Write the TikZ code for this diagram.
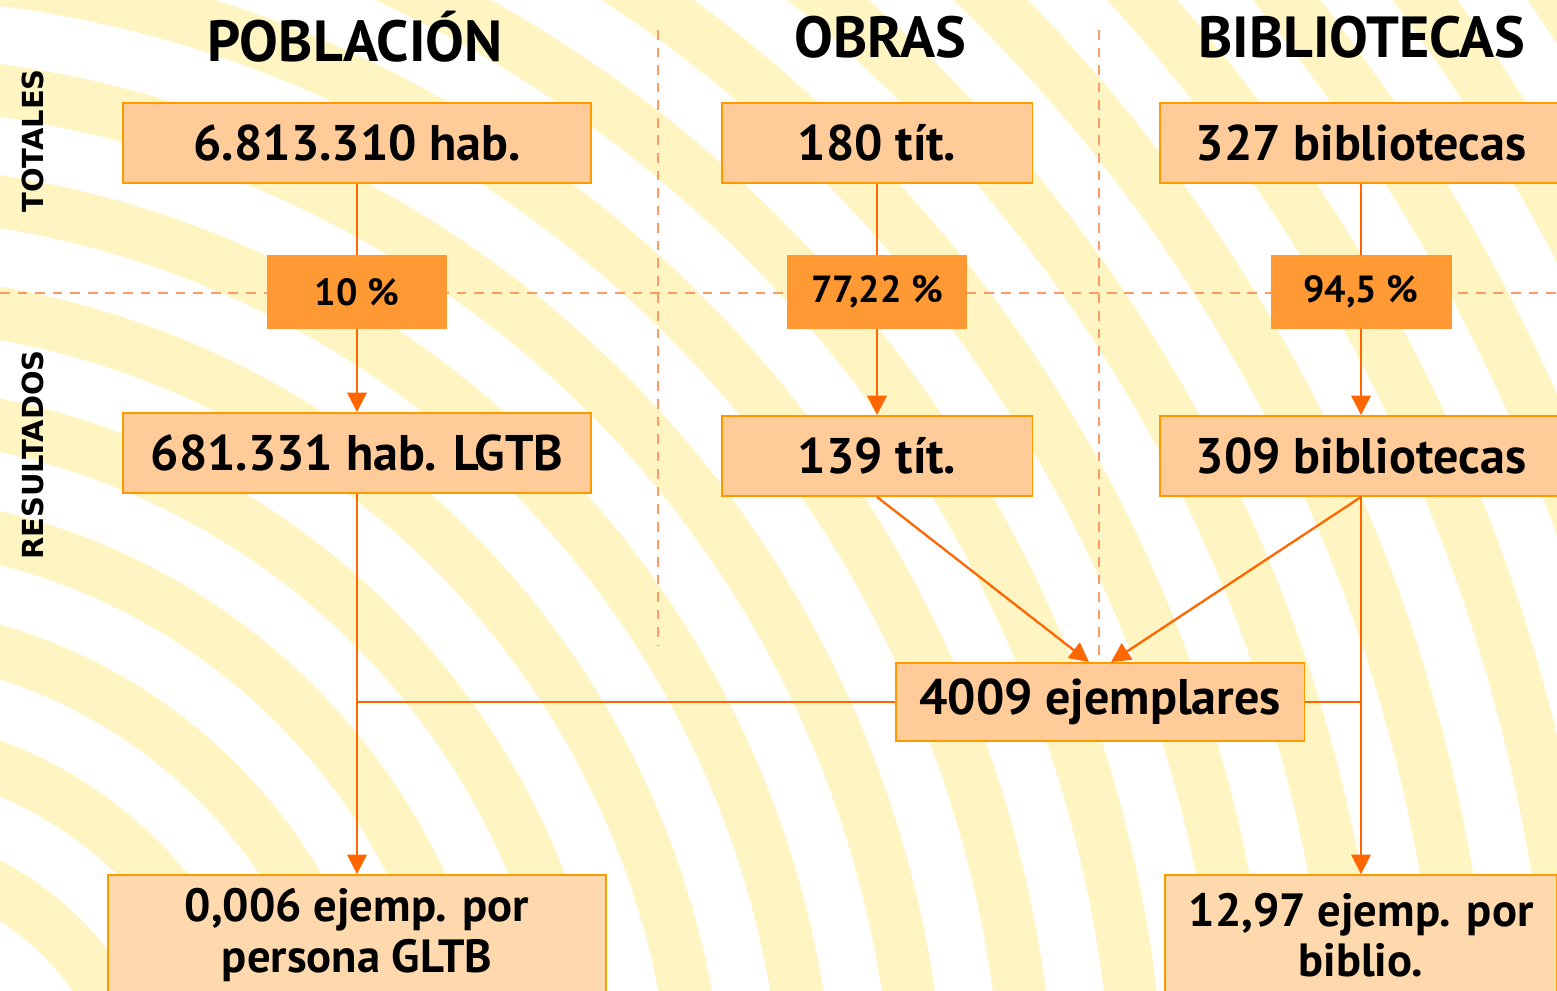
\documentclass[tikz,border=0pt]{standalone}
\usepackage{fontspec}
\setmainfont{PT Sans}
\newfontfamily\labelfont{DejaVu Sans}
\usetikzlibrary{arrows.meta}
\usetikzlibrary{positioning}
\definecolor{peach}{HTML}{FFCC99}
\definecolor{lightpeach}{HTML}{FFD9AE}
\definecolor{boxorange}{HTML}{FF9900}
\definecolor{pctorange}{HTML}{FF9933}
\definecolor{linkorange}{HTML}{FF6600}
\definecolor{salmon}{HTML}{FF9966}
\definecolor{band}{HTML}{FFF5C2}
\newcommand{\boxfont}[0]{\fontsize{28.5}{32}\selectfont\bfseries}
\tikzset{
    valuebox/.style={rectangle, draw=boxorange, line width=1.1pt, fill=peach,
        minimum height=1.6cm, inner sep=0pt, font=\boxfont},
    pctbox/.style={rectangle, fill=pctorange, minimum width=3.62cm, minimum height=1.48cm,
        inner sep=0pt, font=\fontsize{21.5}{25}\selectfont\bfseries},
    finalbox/.style={valuebox, fill=lightpeach, minimum height=2.4cm, align=center,
        font=\fontsize{26.5}{28.5}\selectfont\bfseries},
    header/.style={font=\fontsize{33}{37}\selectfont\bfseries},
    rowlabel/.style={rotate=90, font=\fontsize{16.5}{19}\labelfont\bfseries},
    divider/.style={draw=salmon, line width=1.1pt, dash pattern=on 5.5pt off 4.5pt},
    link/.style={draw=linkorange, line width=1.3pt},
    arrow/.style={link, -{Triangle[length=11pt,width=11pt]}}
}
\begin{document}
\begin{tikzpicture}[x=0.02cm, y=-0.02cm]
    \useasboundingbox (0,0) rectangle (1557,990);
    % background bands
    \begin{scope}
        \clip (0,0) rectangle (1557,990);
        \fill[white] (0,0) rectangle (1557,990);
        \foreach \r in {190,300,...,2400}
            \draw[band, line width=1.05cm] (-150,1150) circle[radius=\r];
    \end{scope}
    % dividers
    \draw[divider] (0,293) -- (1557,293);
    \draw[divider] (658,30) -- (658,645);
    \draw[divider] (1099,30) -- (1099,660);
    % headers
    \node[header] (pob-head) at (355,37) {POBLACIÓN};
    \node[header] (obras-head) at (880,37) {OBRAS};
    \node[header] (bib-head) at (1362,37) {BIBLIOTECAS};
    \node[rowlabel] (totales) at (33,141) {TOTALES};
    \node[rowlabel] (resultados) at (33,455) {RESULTADOS};
    % totals
    \node[valuebox, minimum width=9.38cm] (pob-total) at (357,143) {6.813.310 hab.};
    \node[valuebox, minimum width=6.22cm] (obras-total) at (877,143) {180 tít.};
    \node[valuebox, minimum width=8.04cm] (bib-total) at (1361,143) {327 bibliotecas};
    % percentages
    \node[pctbox] (pob-pct) at (357,292) {10 \%};
    \node[pctbox] (obras-pct) at (877,292) {77,22 \%};
    \node[pctbox] (bib-pct) at (1361,292) {94,5 \%};
    % results
    \node[valuebox, minimum width=9.38cm] (pob-result) at (357,453) {681.331 hab. LGTB};
    \node[valuebox, minimum width=6.22cm] (obras-result) at (877,456) {139 tít.};
    \node[valuebox, minimum width=8.04cm] (bib-result) at (1361,456) {309 bibliotecas};
    \node[valuebox, minimum width=8.18cm, minimum height=1.56cm] (ejemplares) at (1100,702) {4009 ejemplares};
    \node[finalbox, minimum width=9.98cm] (pob-final) at (357,935) {0,006 ejemp. por\\persona GLTB};
    \node[finalbox, minimum width=7.84cm] (bib-final) at (1361,935) {12,97 ejemp. por\\biblio.};
    % connectors
    \draw[link] (pob-total) -- (pob-pct);
    \draw[link] (obras-total) -- (obras-pct);
    \draw[link] (bib-total) -- (bib-pct);
    \draw[arrow] (pob-pct) -- (pob-result);
    \draw[arrow] (obras-pct) -- (obras-result);
    \draw[arrow] (bib-pct) -- (bib-result);
    \draw[arrow] (pob-result) -- (pob-final);
    \draw[arrow] (bib-result) -- (bib-final);
    \draw[arrow] (obras-result.south) -- ([xshift=-0.22cm]ejemplares.north);
    \draw[arrow] (bib-result.south) -- ([xshift=0.22cm]ejemplares.north);
    \draw[link] (ejemplares.west) -- (ejemplares.west -| pob-result.south);
    \draw[link] (ejemplares.east) -- (ejemplares.east -| bib-result.south);
\end{tikzpicture}
\end{document}
